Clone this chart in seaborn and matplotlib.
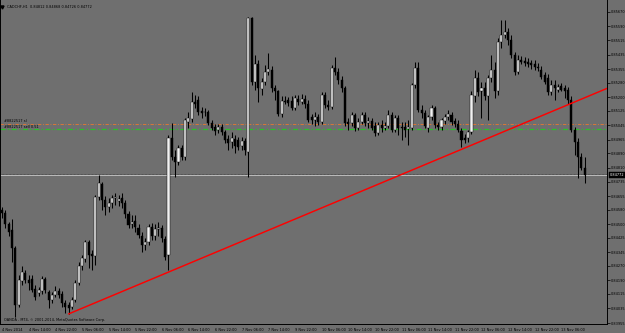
import numpy as np
import pandas as pd
import matplotlib
matplotlib.use("Agg")
import matplotlib.pyplot as plt
import seaborn as sns

# ---------------- data ----------------
symbol = "CADCHF,H1"
title_ohlc = "0.84812 0.84868 0.84726 0.84772"

opens = [0.84578,0.84562,0.84501,0.84468,0.84368,0.84054,0.84187,0.84231,0.84192,0.84198,
         0.84142,0.84120,0.84131,0.84198,0.84126,0.84082,0.84109,0.84131,0.84115,0.84065,
         0.84054,0.84043,0.84082,0.84176,0.84269,0.84308,0.84402,0.84335,0.84324,0.84650,
         0.84721,0.84633,0.84595,0.84617,0.84644,0.84628,0.84644,0.84617,0.84556,0.84501,
         0.84517,0.84479,0.84435,0.84385,0.84402,0.84484,0.84435,0.84473,0.84479,0.84418,
         0.84330,0.84975,0.84870,0.84843,0.84920,0.84870,0.85063,0.85080,0.85174,0.85185,
         0.85124,0.85118,0.85118,0.85058,0.85036,0.85019,0.85036,0.85008,0.84970,0.84953,
         0.84970,0.84964,0.84931,0.84959,0.84898,0.85637,0.85284,0.85383,0.85245,0.85284,
         0.85339,0.85350,0.85251,0.85234,0.85107,0.85179,0.85185,0.85179,0.85140,0.85190,
         0.85174,0.85190,0.85162,0.85091,0.85074,0.85091,0.85063,0.85212,0.85157,0.85146,
         0.85361,0.85339,0.85295,0.85251,0.85063,0.85058,0.85102,0.85030,0.85063,0.85102,
         0.85058,0.85069,0.85041,0.85003,0.85047,0.85030,0.85041,0.85102,0.85019,0.85085,
         0.85036,0.85036,0.85025,0.85030,0.85267,0.85361,0.85129,0.85113,0.85030,0.85091,
         0.85140,0.85047,0.85036,0.85069,0.85091,0.85102,0.85069,0.85052,0.85014,0.84975,
         0.84975,0.85008,0.85207,0.85306,0.85234,0.85251,0.85207,0.85306,0.85350,0.85234,
         0.85504,0.85543,0.85560,0.85515,0.85433,0.85339,0.85405,0.85400,0.85394,0.85389,
         0.85383,0.85367,0.85350,0.85322,0.85306,0.85229,0.85267,0.85240,0.85262,0.85251,
         0.85240,0.85185,0.85019,0.84953,0.84870,0.84812]
highs = [0.84595,0.84578,0.84512,0.84528,0.84380,0.84220,0.84269,0.84247,0.84220,0.84220,
         0.84165,0.84153,0.84214,0.84209,0.84137,0.84126,0.84159,0.84148,0.84131,0.84082,
         0.84071,0.84098,0.84192,0.84291,0.84330,0.84413,0.84413,0.84358,0.84661,0.84771,
         0.84733,0.84655,0.84644,0.84661,0.84672,0.84661,0.84672,0.84633,0.84573,0.84551,
         0.84551,0.84501,0.84457,0.84424,0.84501,0.84506,0.84501,0.84512,0.84495,0.84435,
         0.84992,0.85058,0.84909,0.84936,0.84936,0.85085,0.85118,0.85229,0.85212,0.85207,
         0.85146,0.85140,0.85129,0.85074,0.85052,0.85052,0.85052,0.85019,0.84992,0.85008,
         0.84992,0.84981,0.84981,0.84975,0.85642,0.85642,0.85433,0.85405,0.85306,0.85378,
         0.85444,0.85372,0.85267,0.85240,0.85207,0.85207,0.85201,0.85207,0.85212,0.85212,
         0.85218,0.85212,0.85185,0.85107,0.85118,0.85107,0.85229,0.85229,0.85185,0.85378,
         0.85422,0.85361,0.85317,0.85262,0.85085,0.85118,0.85113,0.85085,0.85118,0.85118,
         0.85091,0.85085,0.85063,0.85063,0.85074,0.85063,0.85129,0.85118,0.85102,0.85102,
         0.85063,0.85063,0.85074,0.85278,0.85394,0.85394,0.85157,0.85129,0.85102,0.85157,
         0.85151,0.85063,0.85085,0.85107,0.85129,0.85118,0.85085,0.85074,0.85030,0.84997,
         0.85019,0.85234,0.85350,0.85339,0.85284,0.85284,0.85322,0.85433,0.85394,0.85527,
         0.85626,0.85626,0.85582,0.85543,0.85449,0.85433,0.85427,0.85422,0.85416,0.85405,
         0.85405,0.85389,0.85372,0.85339,0.85328,0.85295,0.85295,0.85273,0.85278,0.85267,
         0.85256,0.85207,0.85036,0.84975,0.84892,0.84868]
lows = [0.84534,0.84479,0.84435,0.84291,0.83988,0.84043,0.84165,0.84176,0.84137,0.84126,
        0.84082,0.84104,0.84115,0.84120,0.84038,0.84065,0.84098,0.84093,0.84043,0.84010,
        0.84005,0.84032,0.84071,0.84165,0.84247,0.84291,0.84258,0.84247,0.84275,0.84633,
        0.84578,0.84551,0.84567,0.84589,0.84606,0.84600,0.84589,0.84534,0.84479,0.84479,
        0.84457,0.84424,0.84347,0.84358,0.84385,0.84413,0.84413,0.84435,0.84402,0.84302,
        0.84247,0.84854,0.84760,0.84826,0.84854,0.84854,0.85030,0.85063,0.85140,0.85102,
        0.85085,0.85096,0.85047,0.85019,0.84992,0.85003,0.84992,0.84948,0.84909,0.84920,
        0.84892,0.84909,0.84909,0.84881,0.84760,0.85267,0.85240,0.85174,0.85212,0.85267,
        0.85322,0.85229,0.85185,0.85096,0.85091,0.85162,0.85151,0.85129,0.85129,0.85157,
        0.85162,0.85140,0.85063,0.85052,0.85041,0.85047,0.85052,0.85140,0.85129,0.85135,
        0.85322,0.85273,0.85229,0.85041,0.85019,0.85041,0.85014,0.85019,0.85052,0.85041,
        0.85030,0.85019,0.84986,0.84992,0.85008,0.85019,0.85030,0.85008,0.85008,0.84992,
        0.84964,0.84981,0.84936,0.85019,0.85251,0.85118,0.85085,0.85030,0.85008,0.85074,
        0.85030,0.85019,0.85019,0.85052,0.85074,0.85047,0.85036,0.85008,0.84925,0.84948,
        0.84953,0.84997,0.85174,0.85207,0.85085,0.85185,0.85074,0.85284,0.85196,0.85212,
        0.85471,0.85527,0.85488,0.85416,0.85322,0.85328,0.85383,0.85372,0.85367,0.85356,
        0.85350,0.85345,0.85300,0.85273,0.85212,0.85212,0.85185,0.85229,0.85234,0.85196,
        0.85162,0.85008,0.84881,0.84755,0.84799,0.84726]
closes = [0.84562,0.84501,0.84457,0.84368,0.84054,0.84192,0.84236,0.84192,0.84176,0.84137,
          0.84098,0.84137,0.84198,0.84137,0.84082,0.84109,0.84131,0.84109,0.84065,0.84043,
          0.84038,0.84082,0.84176,0.84269,0.84313,0.84402,0.84330,0.84324,0.84650,0.84727,
          0.84633,0.84595,0.84617,0.84644,0.84650,0.84639,0.84617,0.84556,0.84495,0.84512,
          0.84484,0.84440,0.84385,0.84402,0.84484,0.84435,0.84473,0.84479,0.84424,0.84319,
          0.84975,0.84870,0.84843,0.84920,0.84870,0.85074,0.85085,0.85174,0.85162,0.85118,
          0.85113,0.85118,0.85058,0.85030,0.85014,0.85036,0.85008,0.84964,0.84948,0.84975,
          0.84931,0.84925,0.84959,0.84909,0.85637,0.85284,0.85383,0.85251,0.85284,0.85339,
          0.85356,0.85251,0.85234,0.85107,0.85179,0.85174,0.85168,0.85140,0.85196,0.85174,
          0.85190,0.85162,0.85074,0.85074,0.85091,0.85063,0.85212,0.85157,0.85146,0.85361,
          0.85339,0.85295,0.85251,0.85058,0.85052,0.85102,0.85030,0.85063,0.85102,0.85058,
          0.85069,0.85030,0.85003,0.85047,0.85030,0.85041,0.85102,0.85019,0.85085,0.85030,
          0.85030,0.85019,0.85036,0.85267,0.85361,0.85129,0.85113,0.85041,0.85091,0.85140,
          0.85047,0.85036,0.85074,0.85091,0.85107,0.85063,0.85052,0.85019,0.84964,0.84964,
          0.85008,0.85212,0.85306,0.85229,0.85251,0.85207,0.85306,0.85350,0.85234,0.85504,
          0.85543,0.85560,0.85515,0.85433,0.85339,0.85405,0.85394,0.85389,0.85383,0.85378,
          0.85367,0.85361,0.85311,0.85284,0.85229,0.85267,0.85251,0.85256,0.85240,0.85234,
          0.85185,0.85019,0.84953,0.84870,0.84810,0.84772]

time_labels = ["4 Nov 2014", "4 Nov 14:00", "4 Nov 22:00", "5 Nov 06:00", "5 Nov 14:00",
               "5 Nov 22:00", "6 Nov 06:00", "6 Nov 14:00", "6 Nov 22:00", "7 Nov 06:00",
               "7 Nov 14:00", "9 Nov 22:00", "10 Nov 06:00", "10 Nov 14:00", "10 Nov 22:00",
               "11 Nov 06:00", "11 Nov 14:00", "11 Nov 22:00", "12 Nov 06:00", "12 Nov 14:00",
               "12 Nov 22:00", "13 Nov 06:00"]
bars_per_time_label = 8

price_ticks = [0.85670, 0.85590, 0.85515, 0.85435, 0.85355, 0.85280, 0.85200, 0.85125,
               0.85045, 0.84965, 0.84890, 0.84810, 0.84735, 0.84655, 0.84580, 0.84500,
               0.84425, 0.84345, 0.84270, 0.84190, 0.84115, 0.84035, 0.83955]

trend_bars = [20, 172]
trend_prices = [0.84005, 0.85174]

order_label = "#8822517"
order_sell_price = 0.85022
order_sl_price = 0.85055
order_lots = 0.51
bid_price = 0.84772
copyright_text = "OANDA - MT4, \u00a9 2001-2014, MetaQuotes Software Corp."

# ---------------- figure ----------------
sns.set_theme(style="white")
plt.rcParams["font.family"] = ["DejaVu Sans"]
bg = "#6f6f6f"
W, H = 625, 333
fig = plt.figure(figsize=(W / 100, H / 100), dpi=100, facecolor=bg)
ax = fig.add_axes([0.0, 9 / H, 607 / W, 324 / H])
ax.set_facecolor(bg)

df = pd.DataFrame({"open": opens, "high": highs, "low": lows, "close": closes})
df["bar"] = np.arange(len(df))
df["up"] = df["close"] >= df["open"]
df["bottom"] = df[["open", "close"]].min(axis=1)
df["height"] = (df["close"] - df["open"]).abs().clip(lower=0.000012)

ax.vlines(df["bar"], df["low"], df["high"], color="black", lw=0.75, zorder=2)
up = df[df["up"]]
dn = df[~df["up"]]
ax.bar(up["bar"], up["height"], bottom=up["bottom"], width=0.62,
       color="#f2f2f2", edgecolor="black", lw=0.3, zorder=3)
ax.bar(dn["bar"], dn["height"], bottom=dn["bottom"], width=0.62,
       color="black", edgecolor="black", lw=0.3, zorder=3)

x_lo, x_hi = -0.6, 181.7
ax.set_xlim(x_lo, x_hi)
ax.set_ylim(0.839495, 0.85736)

# trend line (ray to the right)
slope = (trend_prices[1] - trend_prices[0]) / (trend_bars[1] - trend_bars[0])
tx = [trend_bars[0], x_hi]
ty = [trend_prices[0], trend_prices[0] + slope * (x_hi - trend_bars[0])]
sns.lineplot(x=tx, y=ty, ax=ax, color="#ff0000", lw=1.05, zorder=4)

# order lines
dashdot = (0, (4, 2, 1, 2))
ax.axhline(order_sl_price, color="#e87830", lw=0.6, ls=dashdot, zorder=1.5)
ax.axhline(order_sell_price, color="#2bc02b", lw=0.9, ls=dashdot, zorder=1.6)
ax.text(0.6, order_sl_price + 0.00004, f"{order_label} sl", fontsize=2.5, color="black",
        va="bottom", ha="left")
ax.text(0.6, order_sell_price + 0.00003, f"{order_label} sell {order_lots:.2f}", fontsize=2.5,
        color="black", va="bottom", ha="left")

# bid line
ax.axhline(bid_price, color="#c8c8c8", lw=0.6, zorder=1)
ax.axhline(bid_price + 0.00004, color="#3a3a3a", lw=0.5, ls=(0, (1, 1)), zorder=1)

# title + copyright
ax.plot([0.004], [0.978], marker="v", ms=2.2, color="black", transform=ax.transAxes)
ax.text(0.012, 0.985, f"{symbol}  {title_ohlc}", transform=ax.transAxes, fontsize=2.5,
        va="top", ha="left", color="black")
ax.text(0.006, 0.006, copyright_text, transform=ax.transAxes, fontsize=2.5,
        va="bottom", ha="left", color="black")

# axes styling
for s in ["left", "right", "bottom"]:
    ax.spines[s].set_color("black")
    ax.spines[s].set_linewidth(0.7)
ax.spines["top"].set_visible(False)

tick_pos = list(range(0, len(time_labels) * bars_per_time_label, bars_per_time_label))
ax.set_xticks(tick_pos)
ax.set_xticklabels(time_labels)
for lab in ax.get_xticklabels():
    lab.set_horizontalalignment("left")
ax.tick_params(axis="x", direction="out", length=2, width=0.5, color="black",
               labelsize=2.5, labelcolor="black", pad=1)

ax.yaxis.tick_right()
ax.set_yticks(price_ticks)
ax.set_yticklabels([f"{p:.5f}" for p in price_ticks])
ax.tick_params(axis="y", direction="out", length=2, width=0.5, color="black",
               labelsize=2.5, labelcolor="black", pad=1)

ax.annotate(f"{bid_price:.5f}", xy=(1.0, bid_price), xycoords=("axes fraction", "data"),
            xytext=(2, 0), textcoords="offset points", fontsize=2.5, color="white",
            va="center", ha="left",
            bbox=dict(boxstyle="square,pad=0.25", fc="black", ec="black", lw=0.3))

fig.savefig("out.png", dpi=100, facecolor=bg)
